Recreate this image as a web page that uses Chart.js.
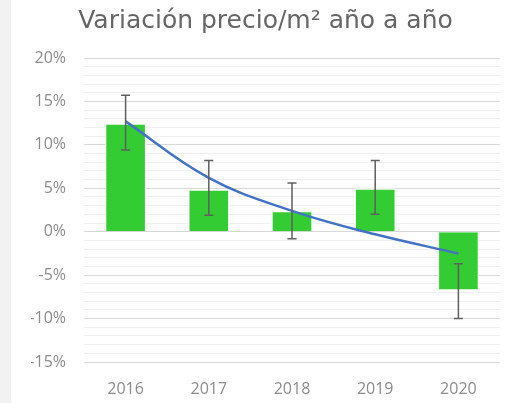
<!DOCTYPE html>
<html>
<head>
<meta charset="utf-8">
<script src="https://cdn.jsdelivr.net/npm/chart.js@4"></script>
<style>
  html, body { margin: 0; padding: 0; background: #f2f2f2; }
  #caja { position: absolute; left: 11px; top: 0; width: 499px; height: 403px; background: #ffffff; }
</style>
</head>
<body>
<div id="caja"><canvas id="grafico"></canvas></div>
<script>
// datos
const anios = ["2016", "2017", "2018", "2019", "2020"];
const variacion = [12.5, 4.9, 2.4, 5.0, -6.8];
const errorArriba = [15.7, 8.2, 5.6, 8.2, -3.7];
const errorAbajo = [9.4, 1.9, -0.8, 2.0, -10.0];
const tendencia = [12.7, 6.2, 2.4, -0.3, -2.5];
const ticksY = [20, 15, 10, 5, 0, -5, -10, -15];

const fuente = "'Open Sans', sans-serif";

// barras de error dibujadas con las escalas del grafico
const barrasError = {
  id: "barrasError",
  afterDatasetsDraw(chart) {
    const ctx = chart.ctx;
    const escalaX = chart.scales.x;
    const escalaY = chart.scales.y;
    ctx.save();
    ctx.strokeStyle = "#5f5f5f";
    ctx.lineWidth = 1.5;
    for (let i = 0; i < anios.length; i++) {
      const px = escalaX.getPixelForValue(i);
      const arriba = escalaY.getPixelForValue(errorArriba[i]);
      const abajo = escalaY.getPixelForValue(errorAbajo[i]);
      ctx.beginPath();
      ctx.moveTo(px, arriba);
      ctx.lineTo(px, abajo);
      ctx.moveTo(px - 4.5, arriba);
      ctx.lineTo(px + 4.5, arriba);
      ctx.moveTo(px - 4.5, abajo);
      ctx.lineTo(px + 4.5, abajo);
      ctx.stroke();
    }
    ctx.restore();
  }
};

new Chart(document.getElementById("grafico"), {
  type: "bar",
  data: {
    labels: anios,
    datasets: [
      {
        type: "line",
        data: tendencia,
        borderColor: "#4472C4",
        borderWidth: 2.5,
        pointRadius: 0,
        tension: 0.4,
        order: 0
      },
      {
        type: "bar",
        data: variacion,
        backgroundColor: "#33cc33",
        borderColor: "#ffffff",
        borderWidth: 1.5,
        barPercentage: 0.5,
        categoryPercentage: 1,
        order: 1
      }
    ]
  },
  options: {
    responsive: true,
    maintainAspectRatio: false,
    animation: false,
    layout: { padding: { left: 20, right: 10, top: 0, bottom: 0 } },
    plugins: {
      legend: { display: false },
      tooltip: { enabled: false },
      title: {
        display: true,
        text: "Variación precio/m² año a año",
        color: "#666666",
        font: { family: "'DejaVu Sans', sans-serif", size: 25, weight: "normal" },
        padding: { top: 6, bottom: 22 }
      }
    },
    scales: {
      x: {
        grid: { display: false },
        border: { display: false },
        ticks: {
          color: "#8c8c8c",
          font: { family: fuente, size: 16 },
          padding: 10
        },
        afterFit(escala) { escala.height = 41; }
      },
      y: {
        min: -15,
        max: 20,
        border: { display: false },
        grid: {
          drawTicks: false,
          color: (c) => (ticksY.includes(c.tick.value) ? "#d9d9d9" : "#f0f0f0"),
          lineWidth: 1
        },
        ticks: {
          stepSize: 1,
          autoSkip: false,
          color: "#8c8c8c",
          font: { family: fuente, size: 16 },
          padding: 18,
          callback: (v) => (ticksY.includes(v) ? v + "%" : "")
        },
        afterFit(escala) { escala.width = 53; }
      }
    }
  },
  plugins: [barrasError]
});
</script>
</body>
</html>
